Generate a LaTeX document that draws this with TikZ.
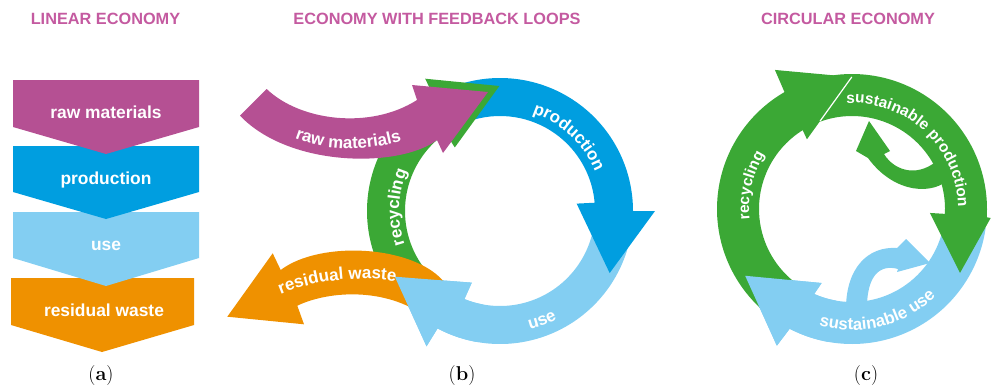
\documentclass[tikz,border=0pt]{standalone}
\usepackage{fontspec}
\newfontfamily\lsans{Liberation Sans}
\usetikzlibrary{decorations.text}
\definecolor{magentaR}{RGB}{181,80,147}
\definecolor{blueP}{RGB}{0,158,224}
\definecolor{lightB}{RGB}{131,206,242}
\definecolor{orangeW}{RGB}{239,145,0}
\definecolor{greenR}{RGB}{59,168,53}
\definecolor{titlepink}{RGB}{196,90,160}
\newcommand\fontA{\lsans\bfseries\fontsize{17.4}{20}\selectfont}
\newcommand\fontB{\lsans\bfseries\fontsize{17}{20}\selectfont}
\newcommand\fontC{\lsans\bfseries\fontsize{15.5}{18}\selectfont}
\newcommand\fontD{\lsans\bfseries\fontsize{16.8}{19}\selectfont}
\begin{document}
\begin{tikzpicture}[x=1pt,y=-1pt,
  lbl/.style={text=white, font=\fontA, anchor=base, inner sep=0pt},
  ttl/.style={text=titlepink, font=\lsans\bfseries\fontsize{16.3}{19}\selectfont, inner sep=0pt},
  plabel/.style={font=\fontsize{20}{24}\selectfont, inner sep=0pt},
  curvtxt/.style={decorate, decoration={text along path, text align=center, text color=white, text={|\fontB|#1}}},
  curvtxtc/.style={decorate, decoration={text along path, text align=center, text color=white, text={|\fontC|#1}}},
  curvtxtd/.style={decorate, decoration={text along path, text align=center, text color=white, text={|\fontD|#1}}}]
\useasboundingbox (0,0) rectangle (993,389);

% ---------- titles ----------
\node[ttl] (t1) at (105.5,19) {LINEAR ECONOMY};
\node[ttl] (t2) at (437,19) {ECONOMY WITH FEEDBACK LOOPS};
\node[ttl] (t3) at (848,19) {CIRCULAR ECONOMY};

% ---------- (a) linear ----------
\fill[orangeW] (11,278) -- (194,278) -- (194,325) -- (102,352) -- (11,325) -- cycle;
\fill[lightB] (13,212) -- (199,212) -- (199,258) -- (106,286) -- (13,258) -- cycle;
\fill[blueP] (13,146) -- (199,146) -- (199,192) -- (106,219) -- (13,192) -- cycle;
\fill[magentaR] (13,80) -- (199,80) -- (199,127) -- (106,154) -- (13,127) -- cycle;
\node[lbl] (a1) at (106,118.3) {raw materials};
\node[lbl] (a2) at (106,184) {production};
\node[lbl] (a3) at (106,250.7) {use};
\node[lbl] (a4) at (104,316) {residual waste};

% ---------- (b) feedback loops ----------
\begin{scope}[shift={(500,211)}]
\fill[lightB] (12:133) arc[start angle=12,end angle=118,radius=133] -- (118.5:154) -- (148:124) -- (111.5:77) -- (112:95) arc[start angle=112,end angle=12,radius=95] -- cycle;
\fill[blueP] (245:133) arc[start angle=245,end angle=360,radius=133] -- (360:155) -- (389.5:126) -- (354.5:77) -- (355:95) arc[start angle=355,end angle=245,radius=95] -- cycle;
\fill[greenR] (140:133) arc[start angle=140,end angle=240,radius=133] -- (240.5:152) -- (269.7:125) -- (234.6:78) -- (235:95) arc[start angle=235,end angle=140,radius=95] -- cycle;
\end{scope}
\fill[orangeW] (445,283) .. controls (415,245) and (320,240) .. (280.7,270) -- (272.7,253.3) -- (227.3,316.7) -- (304,324.3) -- (297.3,305.7) .. controls (330,290) and (390,287) .. (430,320) -- cycle;
\begin{scope}[shift={(500,211)}]
\fill[lightB] (100:133) arc[start angle=100,end angle=118,radius=133] -- (118.5:154) -- (148:124) -- (111.5:77) -- (112:95) arc[start angle=112,end angle=100,radius=95] -- cycle;
\end{scope}
\fill[magentaR] (266.7,89) .. controls (300,121) and (370,130) .. (417,100) -- (412,85) -- (488,92) -- (443,153) -- (437,140) .. controls (400,168) and (290,168) .. (240,115.7) -- cycle;
\path[curvtxt=raw materials] (255,112) .. controls (295,158) and (390,160) .. (445,120);
\path[curvtxt=residual waste] (250,312) .. controls (290,280) and (370,268) .. (430,290);
\begin{scope}[shift={(500,211)}]
\path[curvtxt=production] (-100:103) arc[start angle=-100,end angle=6,radius=103];
\path[curvtxt=recycling] (130:101) arc[start angle=130,end angle=234,radius=101];
\path[curvtxt=use] (115:122) arc[start angle=115,end angle=23,radius=122];
\end{scope}

% ---------- (c) circular ----------
\begin{scope}[shift={(852,209)}]
\fill[lightB] (8:135) arc[start angle=8,end angle=117.5,radius=135] -- (118.8:156) -- (148:126) -- (112.3:80) -- (114:93) arc[start angle=114,end angle=8,radius=93] -- cycle;
\fill[greenR] (128:135) arc[start angle=128,end angle=240,radius=135] -- (241:159) -- (269.9:132) -- (237.1:83) -- (238:93) arc[start angle=238,end angle=128,radius=93] -- cycle;
\fill[greenR] (250:135) arc[start angle=250,end angle=363.5,radius=135] -- (363.7:139) -- (390.6:125.5) -- (362.9:78) -- (363:93) arc[start angle=363,end angle=250,radius=93] -- cycle;
\fill[lightB] (100:135) arc[start angle=100,end angle=117.5,radius=135] -- (118.8:156) -- (148:126) -- (112.3:80) -- (114:93) arc[start angle=114,end angle=100,radius=93] -- cycle;
\draw[white, line width=1.2pt] (269.9:132) -- (250:93.5);
\end{scope}
\fill[greenR] (950,178) .. controls (935,195) and (895,195) .. (868,158) -- (856,151) -- (869,121) -- (890,151) -- (884,154) .. controls (895,172) and (920,178) .. (940,158) -- cycle;
\fill[lightB] (846,312) .. controls (845,268) and (868,246) .. (897,248) -- (906,239) -- (930,263) -- (897,272) -- (898,269) .. controls (880,264) and (866,275) .. (867,312) -- cycle;
\begin{scope}[shift={(852,209)}]
\path[curvtxtc=recycling] (143:103) arc[start angle=143,end angle=243,radius=103];
\path[curvtxtc=sustainable production] (-140:106) arc[start angle=-140,end angle=46,radius=106];
\path[curvtxtd=sustainable use] (150:121) arc[start angle=150,end angle=2,radius=121];
\end{scope}

% ---------- panel labels ----------
\node[plabel] (la) at (101,376) {(\textbf{a})};
\node[plabel] (lb) at (462,376) {(\textbf{b})};
\node[plabel] (lc) at (866,376) {(\textbf{c})};
\end{tikzpicture}
\end{document}
